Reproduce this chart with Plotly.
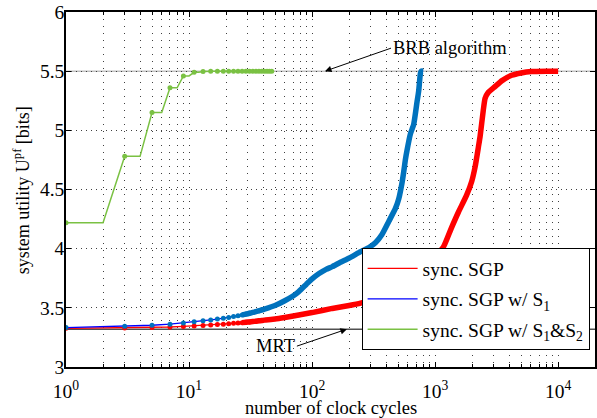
import plotly.graph_objects as go

# ---------------- data ----------------
CYCLES_EARLY = [1, 3, 5, 7, 9, 11, 13, 15, 17, 19, 21, 23, 25, 27, 29, 31, 33, 35, 37, 39]

RED_EARLY = [3.327, 3.330, 3.334, 3.338, 3.343, 3.347, 3.351, 3.355, 3.359, 3.362,
             3.366, 3.369, 3.372, 3.375, 3.378, 3.381, 3.384, 3.387, 3.390, 3.393]
RED_CYCLES_LATE = [41, 50, 60, 78, 100, 146, 200, 248, 300, 400, 500, 600, 800, 1000,
                   1172, 1350, 1549, 1800, 1986, 2113, 2250, 2322, 2464, 2548, 2700,
                   3068, 3500, 4188, 5000, 6081, 8000, 10000]
RED_LATE = [3.396, 3.405, 3.418, 3.440, 3.460, 3.495, 3.520, 3.540, 3.565, 3.620,
            3.670, 3.720, 3.820, 3.930, 4.017, 4.170, 4.310, 4.450, 4.570, 4.690,
            4.860, 4.950, 5.170, 5.270, 5.320, 5.370, 5.420, 5.465, 5.485, 5.497,
            5.500, 5.500]

BLUE_EARLY = [3.333, 3.345, 3.353, 3.362, 3.372, 3.382, 3.390, 3.398, 3.405, 3.412,
              3.419, 3.426, 3.433, 3.440, 3.447, 3.454, 3.461, 3.468, 3.475, 3.482]
BLUE_CYCLES_LATE = [41, 50, 60, 70, 78, 90, 100, 114, 130, 146, 170, 199, 248, 290,
                    327, 370, 420, 476, 506, 539, 556, 573, 591, 630, 670, 713, 735,
                    759, 770, 800]
BLUE_LATE = [3.489, 3.520, 3.560, 3.600, 3.637, 3.700, 3.745, 3.790, 3.825, 3.848,
             3.885, 3.919, 3.975, 4.010, 4.050, 4.120, 4.230, 4.340, 4.420, 4.560,
             4.650, 4.750, 4.830, 4.970, 5.050, 5.240, 5.330, 5.480, 5.500, 5.500]

GREEN_CYCLES = [1, 2, 3, 4, 5, 6, 7, 8, 9, 10, 11, 12, 13, 14, 15, 16, 17, 18, 19, 20,
                21, 22, 23, 24, 25, 26, 27, 28, 29, 30, 31, 32, 33, 34, 35, 36, 37, 38,
                39, 40, 41, 42, 43, 44, 45, 46, 47, 48]
GREEN = [4.22, 4.22, 4.78, 4.78, 5.15, 5.15, 5.36, 5.36, 5.46, 5.46, 5.49, 5.49, 5.497,
         5.5, 5.5, 5.5, 5.5, 5.5, 5.5, 5.5, 5.5, 5.5, 5.5, 5.5, 5.5, 5.5, 5.5, 5.5,
         5.5, 5.5, 5.5, 5.5, 5.5, 5.5, 5.5, 5.5, 5.5, 5.5, 5.5, 5.5, 5.5, 5.5, 5.5,
         5.5, 5.5, 5.5, 5.5, 5.5]

BRB_VALUE = 5.5
MRT_VALUE = 3.32

SERIES_NAMES = ["sync. SGP", "sync. SGP w/ S<sub>1</sub>",
                "sync. SGP w/ S<sub>1</sub>&S<sub>2</sub>"]
X_TITLE = "number of clock cycles"
Y_TITLE = "system utility U<sup>pf</sup> [bits]"
X_TICKS = [1, 10, 100, 1000, 10000]
X_TICK_LABELS = ["10<sup>0</sup>", "10<sup>1</sup>", "10<sup>2</sup>", "10<sup>3</sup>", "10<sup>4</sup>"]
Y_TICKS = [3, 3.5, 4, 4.5, 5, 5.5, 6]
Y_TICK_LABELS = ["3", "3.5", "4", "4.5", "5", "5.5", "6"]

# ---------------- styling ----------------
FONT = "Liberation Serif"
RED = "#ff0000"
BLUE_LINE = "#0000ff"
BLUE_MARK = "#0072bd"
GREEN_C = "#7ac143"
THICK_FROM = 27
TICK_SIZE = 19.5
TEXT_SIZE = 18.5

red_x = CYCLES_EARLY + RED_CYCLES_LATE
red_y = RED_EARLY + RED_LATE
blue_x = CYCLES_EARLY + BLUE_CYCLES_LATE
blue_y = BLUE_EARLY + BLUE_LATE

fig = go.Figure()

# reference lines
fig.add_shape(type="line", xref="paper", x0=0, x1=1, yref="y", y0=BRB_VALUE, y1=BRB_VALUE,
              line=dict(color="#c0c0c0", width=1.5), layer="between")
fig.add_shape(type="line", xref="paper", x0=0, x1=1, yref="y", y0=MRT_VALUE, y1=MRT_VALUE,
              line=dict(color="#505050", width=1.5), layer="between")


def add_series(xs, ys, name, line_color, mark_color, group):
    fig.add_trace(go.Scatter(x=xs, y=ys, mode="lines", name=name, legendgroup=group,
                             line=dict(color=line_color, width=1.3)))
    thick_x = [x for x in xs if x >= THICK_FROM]
    thick_y = [y for x, y in zip(xs, ys) if x >= THICK_FROM]
    fig.add_trace(go.Scatter(x=thick_x, y=thick_y, mode="lines", showlegend=False,
                             legendgroup=group, hoverinfo="skip",
                             line=dict(color=mark_color, width=5.5, shape="spline", smoothing=0.5)))
    fig.add_trace(go.Scatter(x=xs[:len(CYCLES_EARLY)], y=ys[:len(CYCLES_EARLY)], mode="markers",
                             showlegend=False, legendgroup=group,
                             marker=dict(color=mark_color, size=5, line=dict(width=0))))


add_series(red_x, red_y, SERIES_NAMES[0], RED, RED, "r")
add_series(blue_x, blue_y, SERIES_NAMES[1], BLUE_LINE, BLUE_MARK, "b")

fig.add_trace(go.Scatter(x=GREEN_CYCLES, y=GREEN, mode="lines", name=SERIES_NAMES[2],
                         legendgroup="g", line=dict(color=GREEN_C, width=1.5)))
fig.add_trace(go.Scatter(x=GREEN_CYCLES[::2], y=GREEN[::2], mode="markers", showlegend=False,
                         legendgroup="g", marker=dict(color=GREEN_C, size=5, line=dict(width=0))))

# annotations
fig.add_annotation(x=2.105, y=BRB_VALUE, xref="x", yref="y", text="BRB algorithm",
                   showarrow=True, arrowhead=2, arrowsize=1.3, arrowwidth=1, arrowcolor="black",
                   ax=66, ay=-23, xanchor="left", yanchor="middle",
                   font=dict(family=FONT, size=18.5, color="black"))
fig.add_annotation(x=2.283, y=MRT_VALUE, xref="x", yref="y", text="MRT",
                   showarrow=True, arrowhead=2, arrowsize=1.3, arrowwidth=1, arrowcolor="black",
                   ax=-50, ay=17, xanchor="right", yanchor="middle",
                   font=dict(family=FONT, size=18.5, color="black"))

# axis titles
fig.add_annotation(x=0.5, y=-0.1155, xref="paper", yref="paper", text=X_TITLE,
                   showarrow=False, xanchor="center", yanchor="middle",
                   font=dict(family=FONT, size=TEXT_SIZE, color="black"))
fig.add_annotation(x=-0.0829, y=0.4986, xref="paper", yref="paper", text=Y_TITLE,
                   showarrow=False, xanchor="center", yanchor="middle", textangle=-90,
                   font=dict(family=FONT, size=18, color="black"))

minor_vals = [m * d for d in [1, 10, 100, 1000] for m in range(2, 10)]

fig.update_xaxes(type="log", range=[0, 4.2996], tickmode="array", tickvals=X_TICKS,
                 ticktext=X_TICK_LABELS, ticks="inside", ticklen=5, tickwidth=1,
                 tickcolor="black", showline=True, linecolor="black", linewidth=1.5,
                 mirror="ticks", showgrid=True, gridcolor="#404040", griddash="1px,6px",
                 gridwidth=1, zeroline=False, ticklabelposition="outside", ticklabelstandoff=6,
                 minor=dict(tickmode="array", tickvals=minor_vals, ticks="inside", ticklen=3,
                            tickcolor="black", showgrid=True, gridcolor="#404040",
                            griddash="1px,6px", gridwidth=1),
                 tickfont=dict(family=FONT, size=TICK_SIZE, color="black"))
fig.update_yaxes(range=[3, 6], tickmode="array", tickvals=Y_TICKS, ticktext=Y_TICK_LABELS,
                 ticks="inside", ticklen=5, tickwidth=1, tickcolor="black",
                 showline=True, linecolor="black", linewidth=1.5, mirror="ticks",
                 showgrid=True, gridcolor="#404040", griddash="1px,4px", gridwidth=1,
                 zeroline=False, ticklabelstandoff=-4,
                 tickfont=dict(family=FONT, size=TICK_SIZE, color="black"))

fig.update_layout(
    width=597, height=418,
    margin=dict(l=66, r=0, t=12, b=51),
    paper_bgcolor="white", plot_bgcolor="white",
    showlegend=True,
    legend=dict(x=0.5588, y=0.3344, xanchor="left", yanchor="top",
                bgcolor="white", bordercolor="black", borderwidth=1,
                font=dict(family=FONT, size=19.5, color="black"),
                tracegroupgap=2, itemwidth=50),
)

fig.write_html("out.html")
